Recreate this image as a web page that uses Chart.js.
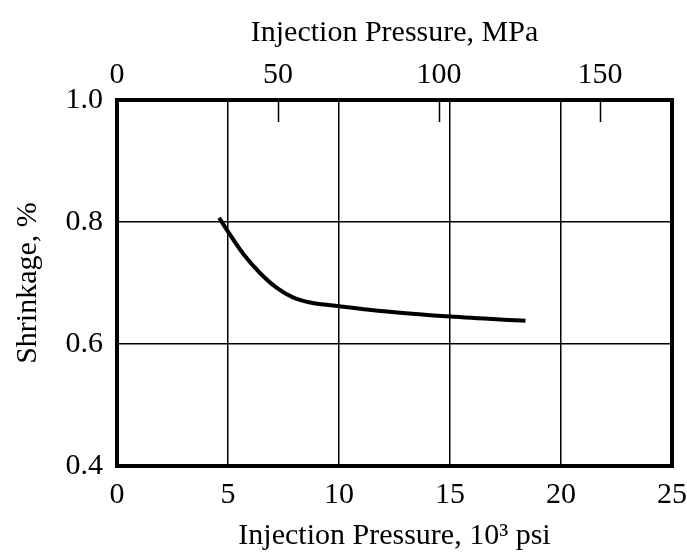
<!DOCTYPE html>
<html>
<head>
<meta charset="utf-8">
<title>Shrinkage vs Injection Pressure</title>
<script src="https://cdn.jsdelivr.net/npm/chart.js@4.4.1/dist/chart.umd.min.js"></script>
<style>
  html, body { margin: 0; padding: 0; background: #fff; }
  canvas { display: block; }
</style>
</head>
<body>
<canvas id="chart" width="687" height="559"></canvas>
<script>
// Injection pressure in 10^3 psi and the resulting shrinkage in %
const pressureKsi = [4.6, 4.95, 5.7, 6.45, 7.2, 7.95, 8.7, 10.0, 12.5, 15.0, 18.4];
const shrinkagePct = [0.807, 0.787, 0.747, 0.716, 0.692, 0.676, 0.668, 0.662, 0.652, 0.645, 0.638];

// Axis ranges and tick values
const ksiTicks = [0, 5, 10, 15, 20, 25];
const shrinkTicks = [0.4, 0.6, 0.8, 1.0];
const mpaTicks = [0, 50, 100, 150];
const MPA_PER_KSI = 6.894757;

const FONT = "'Liberation Serif', 'Times New Roman', serif";
const SIZE = 30;
const INK = '#000';

// Heavy frame around the plot plus short inward ticks for the MPa axis
const framePlugin = {
  id: 'frame',
  afterDraw(chart) {
    const { ctx, chartArea: a, scales } = chart;
    ctx.save();
    ctx.strokeStyle = INK;
    ctx.lineWidth = 1.5;
    const top = scales.x2;
    mpaTicks.forEach(v => {
      if (v === 0) return;
      const x = Math.round(top.getPixelForValue(v)) + 0.5;
      ctx.beginPath();
      ctx.moveTo(x, a.top);
      ctx.lineTo(x, a.top + 22);
      ctx.stroke();
    });
    ctx.lineWidth = 4;
    ctx.strokeRect(a.left, a.top, a.right - a.left, a.bottom - a.top);
    ctx.restore();
  }
};

// Let the end tick labels run past the plot edge instead of shrinking it
const noEdgePadding = s => { s.paddingLeft = 0; s.paddingRight = 0; };

new Chart(document.getElementById('chart'), {
  type: 'line',
  data: {
    datasets: [{
      data: pressureKsi.map((x, i) => ({ x, y: shrinkagePct[i] })),
      borderColor: INK,
      borderWidth: 4,
      pointRadius: 0,
      fill: false,
      cubicInterpolationMode: 'monotone',
      xAxisID: 'x',
      yAxisID: 'y'
    }]
  },
  options: {
    responsive: false,
    devicePixelRatio: 1,
    animation: false,
    layout: { padding: { left: 0, right: 15, top: 0, bottom: 0 } },
    plugins: { legend: { display: false }, tooltip: { enabled: false } },
    scales: {
      x: {
        type: 'linear',
        position: 'bottom',
        min: ksiTicks[0],
        max: ksiTicks[ksiTicks.length - 1],
        afterBuildTicks: s => { s.ticks = ksiTicks.map(value => ({ value })); },
        afterFit: s => { s.height = 93; noEdgePadding(s); },
        grid: { color: INK, lineWidth: 1.5, drawTicks: false },
        border: { display: false },
        ticks: { color: INK, padding: 11, maxRotation: 0, font: { family: FONT, size: SIZE } },
        title: {
          display: true,
          text: 'Injection Pressure, 10³ psi',
          color: INK,
          font: { family: FONT, size: SIZE },
          padding: { top: 0, bottom: 5 }
        }
      },
      x2: {
        type: 'linear',
        position: 'top',
        min: 0,
        max: ksiTicks[ksiTicks.length - 1] * MPA_PER_KSI,
        afterBuildTicks: s => { s.ticks = mpaTicks.map(value => ({ value })); },
        afterFit: s => { s.height = 100; noEdgePadding(s); },
        grid: { display: false, drawTicks: false },
        border: { display: false },
        ticks: { color: INK, padding: 7, maxRotation: 0, font: { family: FONT, size: SIZE } },
        title: {
          display: true,
          text: 'Injection Pressure, MPa',
          color: INK,
          font: { family: FONT, size: SIZE },
          padding: { top: 15, bottom: 0 }
        }
      },
      y: {
        type: 'linear',
        position: 'left',
        min: shrinkTicks[0],
        max: shrinkTicks[shrinkTicks.length - 1],
        afterBuildTicks: s => { s.ticks = shrinkTicks.map(value => ({ value })); },
        afterFit: s => { s.width = 117; s.paddingTop = 0; s.paddingBottom = 0; },
        grid: { color: INK, lineWidth: 1.5, drawTicks: false },
        border: { display: false },
        ticks: {
          color: INK,
          padding: 14,
          font: { family: FONT, size: SIZE },
          callback: v => v.toFixed(1)
        },
        title: {
          display: true,
          text: 'Shrinkage, %',
          color: INK,
          font: { family: FONT, size: SIZE },
          padding: { top: 10, bottom: 0 }
        }
      }
    }
  },
  plugins: [framePlugin]
});
</script>
</body>
</html>
